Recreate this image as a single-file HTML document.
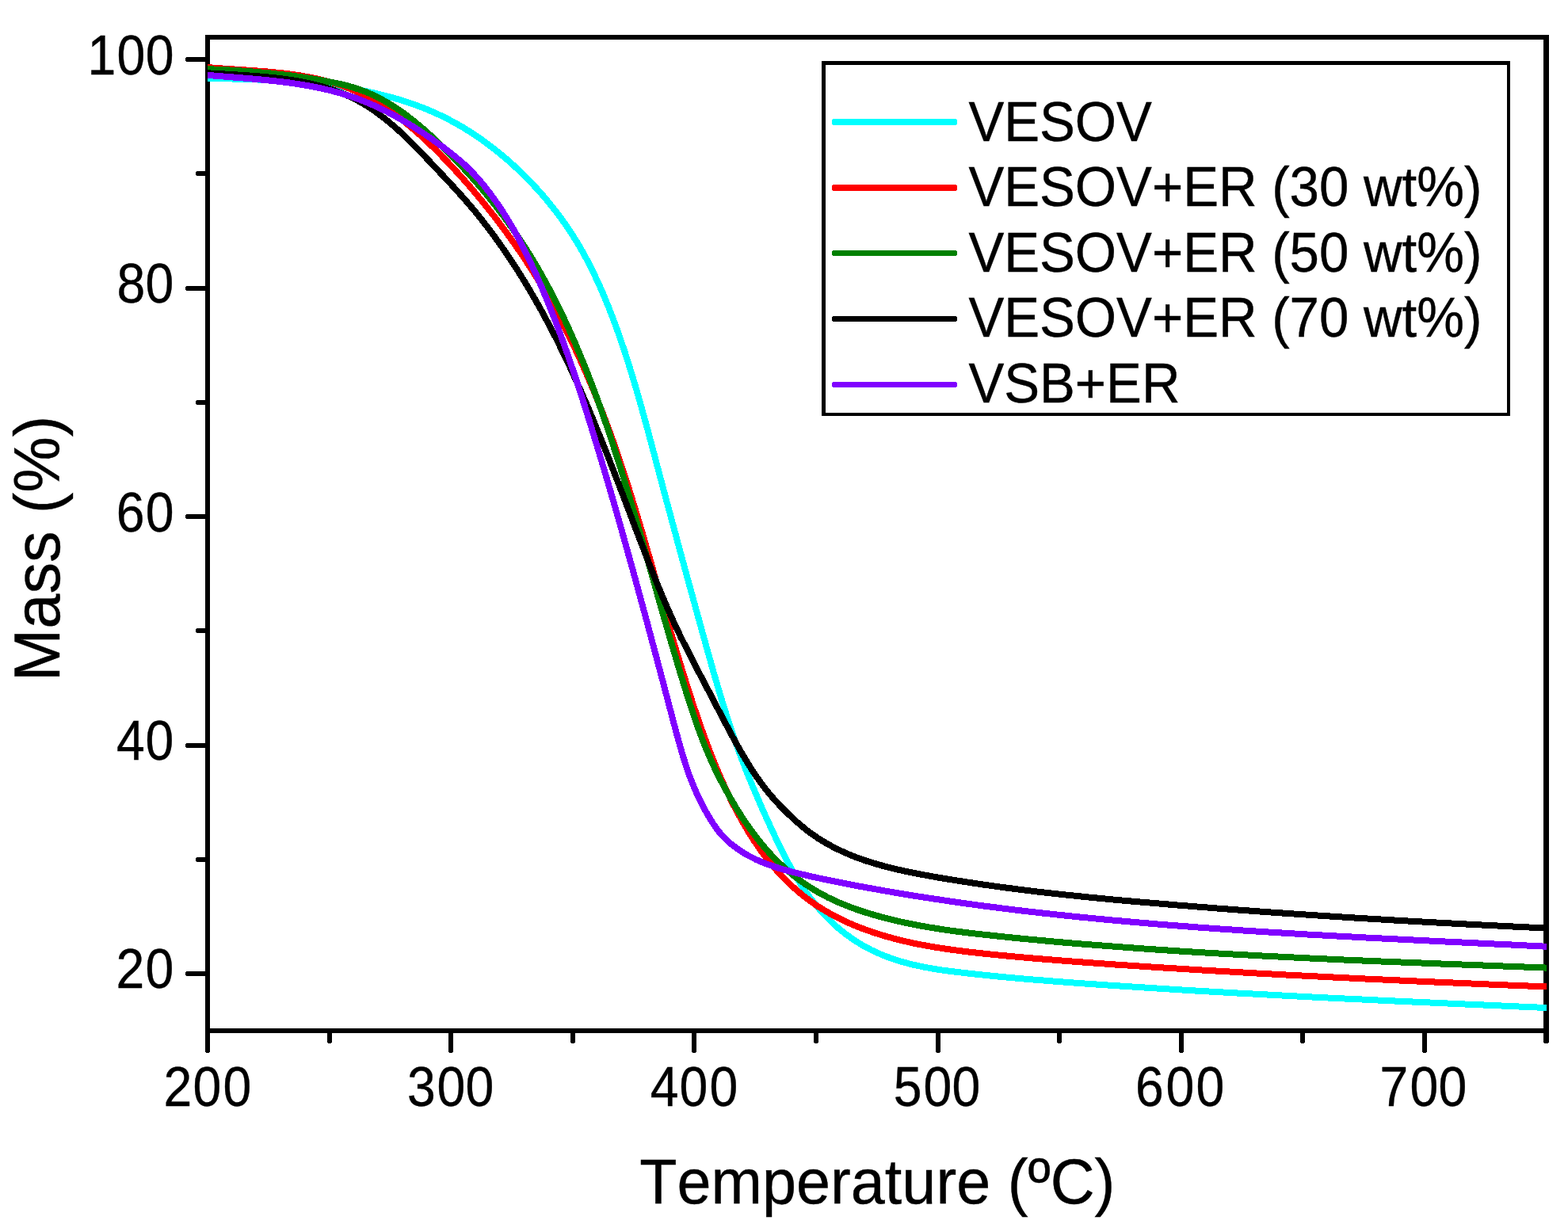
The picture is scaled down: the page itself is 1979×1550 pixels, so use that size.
<!DOCTYPE html>
<html lang="en">
<head>
<meta charset="utf-8">
<title>TGA curves: Mass (%) vs Temperature</title>
<style>
html,body{margin:0;padding:0;background:#fff;}
body{width:1979px;height:1550px;overflow:hidden;}
svg{display:block;}
text{font-family:"Liberation Sans",sans-serif;fill:#000;stroke:#000;stroke-width:0.4px;font-kerning:none;white-space:pre;}
.tk{font-size:67.2px;}
.tt{font-size:77.4px;}
.lg{font-size:67.2px;}
.crisp{shape-rendering:crispEdges;}
.cv{fill:none;stroke-width:8;stroke-linejoin:round;stroke-linecap:butt;shape-rendering:crispEdges;}
</style>
</head>
<body>
<svg width="1979" height="1550" viewBox="0 0 1979 1550">
<rect width="1979" height="1550" fill="#fff"/>
<g class="crisp" fill="#000">
<rect x="259" y="44" width="1696" height="6"/>
<rect x="259" y="1298" width="1696" height="6"/>
<rect x="259" y="44" width="6" height="1260"/>
<rect x="1948" y="44" width="7" height="1260"/>
<rect x="259" y="1300" width="6" height="29" rx="2.4" ry="2.4"/>
<rect x="413" y="1300" width="6" height="17" rx="2.4" ry="2.4"/>
<rect x="566" y="1300" width="6" height="29" rx="2.4" ry="2.4"/>
<rect x="720" y="1300" width="6" height="17" rx="2.4" ry="2.4"/>
<rect x="873" y="1300" width="6" height="29" rx="2.4" ry="2.4"/>
<rect x="1027" y="1300" width="6" height="17" rx="2.4" ry="2.4"/>
<rect x="1181" y="1300" width="6" height="29" rx="2.4" ry="2.4"/>
<rect x="1334" y="1300" width="6" height="17" rx="2.4" ry="2.4"/>
<rect x="1488" y="1300" width="6" height="29" rx="2.4" ry="2.4"/>
<rect x="1641" y="1300" width="6" height="17" rx="2.4" ry="2.4"/>
<rect x="1795" y="1300" width="6" height="29" rx="2.4" ry="2.4"/>
<rect x="1948" y="1300" width="7" height="17" rx="2.4" ry="2.4"/>
<rect x="234" y="1226" width="29" height="6" rx="2.4" ry="2.4"/>
<rect x="247" y="1082" width="16" height="6" rx="2.4" ry="2.4"/>
<rect x="234" y="938" width="29" height="6" rx="2.4" ry="2.4"/>
<rect x="247" y="793" width="16" height="6" rx="2.4" ry="2.4"/>
<rect x="234" y="649" width="29" height="6" rx="2.4" ry="2.4"/>
<rect x="247" y="505" width="16" height="6" rx="2.4" ry="2.4"/>
<rect x="234" y="361" width="29" height="6" rx="2.4" ry="2.4"/>
<rect x="247" y="216" width="16" height="6" rx="2.4" ry="2.4"/>
<rect x="234" y="72" width="29" height="6" rx="2.4" ry="2.4"/>
</g>
<text class="tk" transform="translate(0 1395.6) scale(0.957 1.045)" x="215.9 254.5 294.1" y="0">200</text>
<text class="tk" transform="translate(0 1395.6) scale(0.957 1.045)" x="537.0 576.2 614.0" y="0">300</text>
<text class="tk" transform="translate(0 1395.6) scale(0.957 1.045)" x="857.7 896.0 935.8" y="0">400</text>
<text class="tk" transform="translate(0 1395.6) scale(0.957 1.045)" x="1178.3 1217.8 1255.6" y="0">500</text>
<text class="tk" transform="translate(0 1395.6) scale(0.957 1.045)" x="1497.3 1537.6 1577.4" y="0">600</text>
<text class="tk" transform="translate(0 1395.6) scale(0.957 1.045)" x="1819.8 1859.4 1897.2" y="0">700</text>
<text class="tk" transform="translate(0 1247.3) scale(0.957 1.045)" x="153.1 191.8" y="0">20</text>
<text class="tk" transform="translate(0 959.3) scale(0.957 1.045)" x="153.5 191.8" y="0">40</text>
<text class="tk" transform="translate(0 671.3) scale(0.957 1.045)" x="153.3 191.9" y="0">60</text>
<text class="tk" transform="translate(0 382.3) scale(0.957 1.045)" x="154.1 191.8" y="0">80</text>
<text class="tk" transform="translate(0 94.3) scale(0.957 1.045)" x="115.6 154.2 191.9" y="0">100</text>
<text class="tt" transform="translate(1107.3 1519.2) scale(1 1.035)" text-anchor="middle">Temperature (ºC)</text>
<text class="tt" style="font-size:79.4px" transform="translate(75.0 692.3) rotate(-90) scale(1 1.036)" text-anchor="middle">Mass (%)</text>
<clipPath id="pc"><rect x="262" y="47" width="1690" height="1254"/></clipPath>
<g clip-path="url(#pc)">
<path class="cv" stroke="#00ffff" d="M258.1 98.7 L262.1 98.8 C270.9 99.0 279.7 99.2 288.6 99.4 C297.4 99.6 306.2 99.8 315.1 100.1 C323.9 100.4 332.7 100.8 341.6 101.2 C350.4 101.7 359.2 102.2 368.0 102.9 C376.8 103.5 385.6 104.3 394.4 105.2 C403.2 106.0 412.0 107.1 420.7 108.3 C429.5 109.5 438.2 110.8 446.9 112.4 C455.6 113.9 464.3 115.6 472.9 117.6 C481.5 119.6 490.1 121.7 498.6 124.2 C507.1 126.6 515.5 129.3 523.8 132.3 C532.1 135.3 540.3 138.6 548.4 142.1 C556.4 145.7 564.4 149.6 572.1 153.9 C579.9 158.1 587.5 162.6 594.9 167.4 C602.3 172.2 609.6 177.3 616.6 182.6 C623.7 187.9 630.6 193.4 637.3 199.1 C644.0 204.9 650.6 210.8 656.9 217.0 C663.3 223.1 669.5 229.4 675.5 235.9 C681.5 242.4 687.3 249.0 692.9 255.9 C698.5 262.7 703.9 269.7 709.1 276.8 C714.3 284.0 719.2 291.3 723.9 298.8 C728.7 306.2 733.1 313.9 737.4 321.6 C741.6 329.4 745.7 337.2 749.5 345.2 C753.3 353.1 757.0 361.2 760.5 369.3 C764.0 377.4 767.3 385.6 770.5 393.8 C773.7 402.1 776.8 410.3 779.8 418.7 C782.7 427.0 785.6 435.3 788.4 443.7 C791.1 452.1 793.8 460.5 796.4 469.0 C799.0 477.4 801.5 485.9 804.0 494.4 C806.5 502.9 808.9 511.4 811.2 519.9 C813.6 528.4 815.9 536.9 818.2 545.4 C820.5 554.0 822.8 562.5 825.0 571.0 C827.3 579.6 829.5 588.1 831.8 596.7 C834.1 605.2 836.3 613.7 838.6 622.3 C840.9 630.8 843.2 639.4 845.5 647.9 C847.8 656.4 850.1 664.9 852.4 673.5 C854.7 682.0 857.0 690.5 859.3 699.0 C861.6 707.6 864.0 716.1 866.3 724.6 C868.6 733.1 871.0 741.7 873.3 750.2 C875.6 758.7 878.0 767.2 880.3 775.7 C882.7 784.2 885.1 792.7 887.4 801.3 C889.8 809.8 892.1 818.3 894.5 826.8 C896.9 835.3 899.3 843.8 901.7 852.3 C904.2 860.8 906.7 869.3 909.2 877.7 C911.8 886.2 914.4 894.6 917.1 903.0 C919.8 911.4 922.5 919.8 925.4 928.2 C928.3 936.5 931.3 944.9 934.3 953.1 C937.4 961.4 940.6 969.6 943.9 977.8 C947.2 986.0 950.6 994.2 954.1 1002.3 C957.5 1010.4 961.1 1018.5 964.7 1026.6 C968.3 1034.6 972.0 1042.7 975.8 1050.7 C979.5 1058.7 983.3 1066.7 987.3 1074.6 C991.2 1082.5 995.3 1090.3 999.7 1098.0 C1004.0 1105.7 1008.6 1113.2 1013.5 1120.6 C1018.4 1127.9 1023.7 1135.0 1029.3 1141.9 C1034.9 1148.7 1040.8 1155.3 1047.1 1161.4 C1053.4 1167.6 1060.1 1173.5 1067.1 1178.8 C1074.1 1184.2 1081.5 1189.1 1089.1 1193.5 C1096.8 1197.9 1104.7 1201.7 1112.9 1205.1 C1121.1 1208.5 1129.4 1211.4 1137.9 1213.9 C1146.4 1216.3 1155.0 1218.4 1163.7 1220.1 C1172.3 1221.9 1181.0 1223.3 1189.8 1224.6 C1198.5 1225.9 1207.3 1226.9 1216.1 1227.9 C1224.9 1228.9 1233.7 1229.9 1242.4 1230.8 C1251.2 1231.7 1260.0 1232.6 1268.8 1233.4 C1277.6 1234.2 1286.4 1235.0 1295.2 1235.8 C1304.0 1236.5 1312.8 1237.2 1321.6 1237.9 C1330.4 1238.6 1339.2 1239.3 1348.0 1240.0 C1356.9 1240.6 1365.7 1241.2 1374.5 1241.9 C1383.3 1242.5 1392.1 1243.1 1400.9 1243.7 C1409.7 1244.3 1418.5 1244.9 1427.4 1245.4 C1436.2 1246.0 1445.0 1246.6 1453.8 1247.1 C1462.6 1247.7 1471.4 1248.2 1480.3 1248.8 C1489.1 1249.3 1497.9 1249.8 1506.7 1250.4 C1515.5 1250.9 1524.4 1251.4 1533.2 1251.9 C1542.0 1252.4 1550.8 1252.9 1559.6 1253.4 C1568.5 1253.9 1577.3 1254.4 1586.1 1254.8 C1594.9 1255.3 1603.7 1255.8 1612.6 1256.2 C1621.4 1256.7 1630.2 1257.2 1639.0 1257.6 C1647.9 1258.1 1656.7 1258.5 1665.5 1259.0 C1674.3 1259.4 1683.1 1259.8 1692.0 1260.3 C1700.8 1260.7 1709.6 1261.1 1718.4 1261.5 C1727.3 1261.9 1736.1 1262.4 1744.9 1262.8 C1753.7 1263.2 1762.6 1263.6 1771.4 1264.0 C1780.2 1264.4 1789.0 1264.8 1797.9 1265.2 C1806.7 1265.6 1815.5 1266.0 1824.3 1266.4 C1833.2 1266.8 1842.0 1267.2 1850.8 1267.6 C1859.6 1268.0 1868.5 1268.4 1877.3 1268.7 C1886.1 1269.1 1894.9 1269.5 1903.8 1269.9 C1912.6 1270.3 1921.4 1270.7 1930.2 1271.1 C1939.1 1271.5 1947.9 1271.8 1956.7 1272.2"/>
<path class="cv" stroke="#ff0000" d="M258.1 84.8 L262.1 85.1 C270.6 85.8 279.3 86.4 288.0 87.0 C296.6 87.5 305.3 88.1 314.0 88.7 C322.6 89.3 331.2 89.9 339.9 90.7 C348.5 91.5 357.1 92.4 365.7 93.5 C374.3 94.6 382.9 96.0 391.4 97.6 C399.9 99.3 408.4 101.2 416.7 103.5 C425.0 105.9 433.3 108.6 441.3 111.8 C449.3 115.0 457.2 118.7 464.8 122.8 C472.4 127.0 479.8 131.5 487.0 136.4 C494.2 141.2 501.2 146.3 508.0 151.7 C514.8 157.1 521.4 162.6 527.9 168.4 C534.4 174.2 540.7 180.1 546.9 186.2 C553.1 192.2 559.1 198.4 565.1 204.7 C571.1 211.0 576.9 217.4 582.7 223.8 C588.5 230.3 594.2 236.8 599.7 243.4 C605.3 250.1 610.8 256.8 616.2 263.5 C621.6 270.3 626.9 277.2 632.1 284.1 C637.3 291.0 642.4 298.0 647.4 305.1 C652.4 312.2 657.3 319.3 662.1 326.6 C666.9 333.8 671.6 341.1 676.1 348.4 C680.7 355.8 685.1 363.2 689.5 370.8 C693.8 378.2 698.0 385.8 702.1 393.4 C706.3 401.1 710.3 408.7 714.2 416.5 C718.1 424.2 721.9 432.0 725.7 439.8 C729.4 447.6 733.0 455.5 736.5 463.4 C740.1 471.3 743.5 479.3 746.9 487.3 C750.2 495.2 753.5 503.3 756.7 511.3 C759.9 519.4 763.0 527.5 766.0 535.6 C769.0 543.7 772.0 551.9 774.9 560.0 C777.7 568.2 780.5 576.4 783.3 584.6 C786.0 592.8 788.7 601.1 791.4 609.3 C794.0 617.6 796.6 625.8 799.1 634.1 C801.7 642.4 804.2 650.7 806.7 659.0 C809.1 667.3 811.6 675.6 814.0 683.9 C816.4 692.3 818.8 700.6 821.2 708.9 C823.6 717.2 825.9 725.6 828.3 733.9 C830.7 742.2 833.0 750.6 835.4 758.9 C837.8 767.2 840.2 775.6 842.6 783.9 C845.0 792.2 847.4 800.5 849.8 808.8 C852.3 817.2 854.8 825.5 857.3 833.7 C859.8 842.0 862.3 850.3 865.0 858.6 C867.6 866.8 870.2 875.1 872.9 883.3 C875.6 891.6 878.4 899.8 881.2 908.0 C884.0 916.1 886.9 924.3 889.9 932.4 C892.9 940.6 896.0 948.7 899.2 956.7 C902.4 964.8 905.7 972.8 909.1 980.7 C912.6 988.7 916.2 996.6 920.0 1004.4 C923.7 1012.2 927.6 1019.9 931.8 1027.5 C935.9 1035.1 940.2 1042.7 944.7 1050.1 C949.2 1057.5 954.0 1064.7 959.0 1071.8 C964.0 1078.9 969.2 1085.8 974.8 1092.4 C980.4 1099.0 986.2 1105.4 992.4 1111.5 C998.5 1117.6 1005.0 1123.4 1011.7 1128.9 C1018.4 1134.3 1025.4 1139.5 1032.7 1144.2 C1039.9 1148.9 1047.5 1153.3 1055.2 1157.3 C1062.8 1161.2 1070.7 1164.9 1078.7 1168.2 C1086.8 1171.5 1094.9 1174.5 1103.1 1177.2 C1111.4 1179.9 1119.7 1182.4 1128.0 1184.6 C1136.4 1186.8 1144.8 1188.8 1153.3 1190.6 C1161.8 1192.4 1170.3 1193.9 1178.9 1195.4 C1187.4 1196.8 1196.0 1198.1 1204.6 1199.2 C1213.1 1200.4 1221.7 1201.5 1230.4 1202.4 C1239.0 1203.4 1247.6 1204.3 1256.2 1205.1 C1264.8 1206.0 1273.5 1206.8 1282.1 1207.6 C1290.7 1208.4 1299.3 1209.1 1308.0 1209.9 C1316.6 1210.6 1325.2 1211.3 1333.9 1212.0 C1342.5 1212.7 1351.2 1213.4 1359.8 1214.0 C1368.4 1214.7 1377.1 1215.3 1385.7 1215.9 C1394.4 1216.6 1403.0 1217.2 1411.6 1217.8 C1420.3 1218.3 1428.9 1218.9 1437.6 1219.5 C1446.2 1220.1 1454.9 1220.6 1463.5 1221.2 C1472.2 1221.7 1480.8 1222.3 1489.5 1222.8 C1498.1 1223.4 1506.7 1223.9 1515.4 1224.4 C1524.0 1224.9 1532.7 1225.4 1541.3 1225.9 C1550.0 1226.4 1558.6 1226.9 1567.3 1227.4 C1575.9 1227.9 1584.6 1228.4 1593.2 1228.9 C1601.9 1229.3 1610.5 1229.8 1619.2 1230.3 C1627.9 1230.7 1636.5 1231.2 1645.2 1231.6 C1653.8 1232.1 1662.5 1232.5 1671.1 1232.9 C1679.8 1233.4 1688.4 1233.8 1697.1 1234.2 C1705.7 1234.7 1714.4 1235.1 1723.0 1235.5 C1731.7 1235.9 1740.3 1236.3 1749.0 1236.7 C1757.7 1237.1 1766.3 1237.5 1775.0 1237.9 C1783.6 1238.3 1792.3 1238.7 1800.9 1239.1 C1809.6 1239.5 1818.2 1239.8 1826.9 1240.2 C1835.6 1240.6 1844.2 1241.0 1852.9 1241.3 C1861.5 1241.7 1870.2 1242.1 1878.8 1242.5 C1887.5 1242.8 1896.1 1243.2 1904.8 1243.6 C1913.5 1243.9 1922.1 1244.3 1930.8 1244.6 C1939.4 1245.0 1948.1 1245.4 1956.7 1245.7"/>
<path class="cv" stroke="#008000" d="M258.0 86.9 L262.0 87.1 C270.7 87.5 279.3 87.9 287.8 88.4 C296.5 88.9 305.1 89.5 313.7 90.1 C322.3 90.8 330.9 91.5 339.5 92.3 C348.0 93.2 356.6 94.2 365.2 95.2 C373.7 96.3 382.2 97.5 390.8 98.9 C399.3 100.2 407.8 101.7 416.3 103.4 C424.8 105.0 433.3 106.8 441.5 109.1 C449.9 111.5 458.1 114.3 465.9 117.7 C473.9 121.2 481.5 125.1 489.0 129.5 C496.4 133.8 503.6 138.6 510.6 143.7 C517.5 148.8 524.2 154.2 530.8 159.8 C537.4 165.4 543.8 171.2 550.1 177.1 C556.4 183.0 562.5 189.1 568.6 195.2 C574.7 201.3 580.7 207.6 586.5 213.9 C592.4 220.2 598.1 226.7 603.8 233.2 C609.4 239.7 614.9 246.4 620.3 253.1 C625.7 259.8 631.0 266.7 636.1 273.6 C641.2 280.6 646.2 287.6 651.1 294.7 C656.0 301.8 660.7 309.0 665.3 316.4 C669.9 323.7 674.3 331.0 678.7 338.5 C683.0 346.0 687.2 353.5 691.3 361.1 C695.3 368.7 699.3 376.4 703.1 384.1 C707.0 391.8 710.7 399.6 714.4 407.4 C718.0 415.3 721.5 423.1 725.0 431.1 C728.4 439.0 731.7 446.9 735.0 454.9 C738.3 462.9 741.4 470.9 744.5 479.0 C747.6 487.0 750.7 495.1 753.6 503.2 C756.6 511.3 759.5 519.4 762.3 527.6 C765.2 535.7 768.0 543.9 770.7 552.1 C773.4 560.3 776.1 568.5 778.7 576.7 C781.4 584.9 783.9 593.1 786.5 601.4 C789.0 609.6 791.6 617.9 794.0 626.1 C796.5 634.4 799.0 642.7 801.4 651.0 C803.8 659.2 806.2 667.5 808.6 675.8 C811.0 684.1 813.4 692.4 815.7 700.7 C818.1 709.0 820.4 717.3 822.8 725.6 C825.1 733.9 827.5 742.2 829.8 750.5 C832.2 758.8 834.6 767.1 836.9 775.4 C839.3 783.7 841.7 792.0 844.1 800.3 C846.5 808.6 848.9 816.9 851.4 825.1 C853.8 833.4 856.3 841.7 858.8 849.9 C861.3 858.2 863.9 866.4 866.4 874.7 C869.0 882.9 871.7 891.1 874.4 899.3 C877.1 907.5 879.9 915.6 882.9 923.7 C885.9 931.8 889.0 939.9 892.3 947.8 C895.7 955.8 899.2 963.7 902.9 971.5 C906.6 979.2 910.6 986.9 914.7 994.5 C918.8 1002.1 923.1 1009.6 927.5 1017.0 C932.0 1024.4 936.6 1031.7 941.5 1038.8 C946.3 1045.9 951.4 1052.9 956.7 1059.7 C962.1 1066.5 967.7 1073.0 973.6 1079.3 C979.5 1085.6 985.7 1091.6 992.2 1097.3 C998.7 1102.9 1005.5 1108.3 1012.5 1113.3 C1019.6 1118.3 1026.9 1122.9 1034.4 1127.2 C1041.9 1131.4 1049.7 1135.2 1057.6 1138.7 C1065.5 1142.1 1073.5 1145.2 1081.7 1148.1 C1089.8 1150.9 1098.1 1153.5 1106.4 1155.8 C1114.7 1158.2 1123.0 1160.3 1131.4 1162.3 C1139.8 1164.2 1148.3 1166.0 1156.8 1167.6 C1165.2 1169.2 1173.7 1170.7 1182.3 1172.0 C1190.8 1173.4 1199.3 1174.6 1207.9 1175.7 C1216.4 1176.8 1225.0 1177.9 1233.6 1178.8 C1242.1 1179.8 1250.7 1180.7 1259.3 1181.6 C1267.9 1182.5 1276.5 1183.4 1285.1 1184.3 C1293.7 1185.1 1302.2 1185.9 1310.8 1186.7 C1319.4 1187.5 1328.0 1188.3 1336.6 1189.1 C1345.2 1189.8 1353.8 1190.5 1362.4 1191.3 C1371.0 1192.0 1379.6 1192.7 1388.2 1193.3 C1396.8 1194.0 1405.4 1194.7 1414.0 1195.3 C1422.6 1196.0 1431.2 1196.6 1439.8 1197.2 C1448.4 1197.8 1457.0 1198.4 1465.7 1199.0 C1474.3 1199.5 1482.9 1200.1 1491.5 1200.7 C1500.1 1201.2 1508.7 1201.7 1517.3 1202.3 C1525.9 1202.8 1534.5 1203.3 1543.2 1203.8 C1551.8 1204.3 1560.4 1204.8 1569.0 1205.2 C1577.6 1205.7 1586.2 1206.2 1594.8 1206.6 C1603.5 1207.1 1612.1 1207.5 1620.7 1207.9 C1629.3 1208.4 1637.9 1208.8 1646.6 1209.2 C1655.2 1209.6 1663.8 1210.0 1672.4 1210.4 C1681.0 1210.8 1689.6 1211.2 1698.3 1211.6 C1706.9 1211.9 1715.5 1212.3 1724.1 1212.7 C1732.8 1213.1 1741.4 1213.4 1750.0 1213.8 C1758.6 1214.1 1767.2 1214.5 1775.9 1214.8 C1784.5 1215.2 1793.1 1215.5 1801.7 1215.8 C1810.3 1216.2 1819.0 1216.5 1827.6 1216.9 C1836.2 1217.2 1844.8 1217.5 1853.5 1217.8 C1862.1 1218.2 1870.7 1218.5 1879.3 1218.8 C1887.9 1219.2 1896.6 1219.5 1905.2 1219.8 C1913.8 1220.1 1922.4 1220.5 1931.1 1220.8 C1939.7 1221.1 1948.3 1221.4 1956.9 1221.8"/>
<path class="cv" stroke="#000000" d="M258.2 92.0 L262.2 92.3 C270.3 92.8 278.7 93.3 287.1 93.7 C295.3 94.2 303.6 94.7 312.0 95.3 C320.2 95.8 328.6 96.5 336.9 97.3 C345.1 98.1 353.4 99.0 361.6 100.2 C369.9 101.3 378.1 102.7 386.2 104.4 C394.4 106.1 402.5 108.0 410.4 110.4 C418.5 112.7 426.3 115.5 434.0 118.6 C441.7 121.8 449.1 125.5 456.4 129.6 C463.5 133.8 470.5 138.3 477.2 143.3 C483.9 148.2 490.4 153.4 496.7 158.9 C502.9 164.3 509.0 170.0 515.0 175.8 C520.9 181.6 526.8 187.6 532.5 193.6 C538.3 199.6 544.0 205.7 549.7 211.7 C555.4 217.8 561.1 223.9 566.8 229.9 C572.4 236.0 578.1 242.1 583.6 248.3 C589.1 254.5 594.5 260.8 599.9 267.2 C605.1 273.6 610.3 280.2 615.3 286.8 C620.4 293.4 625.3 300.1 630.1 306.9 C634.9 313.7 639.6 320.5 644.3 327.5 C648.9 334.4 653.3 341.4 657.7 348.4 C662.1 355.5 666.4 362.6 670.6 369.8 C674.8 377.0 679.0 384.2 683.0 391.5 C687.0 398.8 690.9 406.1 694.8 413.5 C698.6 420.8 702.4 428.2 706.1 435.7 C709.8 443.1 713.4 450.6 717.0 458.2 C720.5 465.7 724.0 473.2 727.4 480.8 C730.8 488.4 734.2 496.0 737.5 503.6 C740.8 511.3 744.1 518.9 747.3 526.6 C750.5 534.3 753.6 542.0 756.7 549.7 C759.9 557.4 762.9 565.1 766.0 572.9 C769.1 580.6 772.1 588.3 775.1 596.1 C778.1 603.8 781.1 611.6 784.1 619.4 C787.0 627.1 790.0 634.9 793.0 642.7 C795.9 650.5 798.9 658.2 801.8 666.0 C804.8 673.8 807.8 681.5 810.8 689.3 C813.8 697.1 816.8 704.8 819.8 712.6 C822.8 720.3 825.9 728.0 829.0 735.7 C832.2 743.4 835.3 751.1 838.6 758.8 C841.9 766.4 845.2 774.0 848.7 781.6 C852.1 789.2 855.7 796.7 859.3 804.2 C863.0 811.6 866.8 819.0 870.6 826.4 C874.4 833.8 878.2 841.2 882.0 848.6 C885.9 856.0 889.7 863.4 893.6 870.7 C897.4 878.1 901.3 885.5 905.1 892.8 C909.0 900.2 912.9 907.6 916.7 914.9 C920.6 922.3 924.5 929.6 928.5 936.9 C932.5 944.2 936.6 951.5 940.9 958.6 C945.1 965.7 949.6 972.8 954.3 979.6 C959.0 986.5 963.9 993.2 969.2 999.6 C974.4 1006.0 980.0 1012.2 985.8 1018.3 C991.5 1024.2 997.5 1030.0 1003.7 1035.6 C1009.9 1041.2 1016.3 1046.6 1023.0 1051.4 C1029.7 1056.4 1036.7 1060.9 1043.9 1065.0 C1051.2 1069.1 1058.6 1072.8 1066.2 1076.2 C1073.8 1079.6 1081.5 1082.6 1089.4 1085.3 C1097.2 1088.0 1105.2 1090.4 1113.3 1092.6 C1121.2 1094.8 1129.3 1096.8 1137.5 1098.6 C1145.6 1100.4 1153.7 1102.0 1161.9 1103.6 C1170.1 1105.1 1178.3 1106.6 1186.5 1108.0 C1194.7 1109.4 1202.9 1110.7 1211.1 1112.0 C1219.3 1113.3 1227.5 1114.6 1235.8 1115.8 C1244.0 1117.0 1252.2 1118.2 1260.5 1119.3 C1268.7 1120.4 1277.0 1121.5 1285.2 1122.5 C1293.5 1123.6 1301.7 1124.6 1310.0 1125.6 C1318.2 1126.5 1326.5 1127.5 1334.8 1128.4 C1343.0 1129.3 1351.3 1130.2 1359.6 1131.0 C1367.9 1131.9 1376.1 1132.7 1384.4 1133.5 C1392.7 1134.3 1401.0 1135.1 1409.2 1135.9 C1417.5 1136.6 1425.8 1137.4 1434.1 1138.1 C1442.4 1138.8 1450.7 1139.5 1459.0 1140.2 C1467.2 1140.9 1475.5 1141.6 1483.8 1142.3 C1492.1 1143.0 1500.4 1143.7 1508.7 1144.3 C1517.0 1145.0 1525.3 1145.6 1533.6 1146.3 C1541.9 1146.9 1550.2 1147.6 1558.4 1148.2 C1566.7 1148.8 1575.0 1149.4 1583.3 1150.0 C1591.6 1150.6 1599.9 1151.2 1608.2 1151.8 C1616.5 1152.4 1624.8 1152.9 1633.1 1153.5 C1641.4 1154.1 1649.7 1154.6 1658.0 1155.2 C1666.3 1155.7 1674.6 1156.3 1682.9 1156.8 C1691.2 1157.3 1699.5 1157.9 1707.8 1158.4 C1716.1 1158.9 1724.4 1159.4 1732.7 1159.9 C1741.0 1160.4 1749.3 1160.9 1757.6 1161.4 C1765.9 1161.9 1774.2 1162.3 1782.5 1162.8 C1790.8 1163.3 1799.1 1163.7 1807.4 1164.2 C1815.7 1164.6 1824.0 1165.1 1832.3 1165.5 C1840.7 1166.0 1849.0 1166.4 1857.3 1166.9 C1865.6 1167.3 1873.9 1167.7 1882.2 1168.1 C1890.5 1168.5 1898.8 1169.0 1907.1 1169.4 C1915.4 1169.8 1923.7 1170.2 1932.0 1170.6 C1940.3 1171.0 1948.6 1171.4 1956.9 1171.8"/>
<path class="cv" stroke="#8000ff" d="M258.1 94.6 L262.1 94.9 C270.6 95.6 279.2 96.3 287.9 97.0 C296.4 97.7 305.1 98.3 313.7 99.1 C322.3 99.8 330.9 100.6 339.5 101.5 C348.1 102.4 356.7 103.3 365.2 104.5 C373.8 105.7 382.3 107.0 390.8 108.6 C399.3 110.1 407.7 111.9 416.1 114.0 C424.5 116.0 432.8 118.4 441.0 121.1 C449.2 123.7 457.3 126.8 465.2 130.1 C473.2 133.5 481.0 137.2 488.7 141.1 C496.4 145.1 503.9 149.3 511.3 153.7 C518.8 158.1 526.1 162.7 533.3 167.5 C540.5 172.3 547.5 177.2 554.5 182.3 C561.5 187.4 568.4 192.6 575.0 198.1 C581.7 203.5 588.1 209.3 594.2 215.5 C600.2 221.6 606.0 228.1 611.4 234.8 C616.8 241.6 621.9 248.5 626.8 255.6 C631.8 262.7 636.5 270.0 640.9 277.3 C645.4 284.7 649.7 292.2 653.8 299.8 C657.9 307.4 661.8 315.1 665.6 322.9 C669.3 330.6 673.0 338.5 676.5 346.3 C680.1 354.2 683.5 362.1 686.8 370.1 C690.2 378.0 693.4 386.0 696.6 394.1 C699.8 402.1 702.9 410.2 705.9 418.3 C708.9 426.3 711.8 434.5 714.7 442.6 C717.6 450.7 720.4 458.9 723.2 467.1 C726.0 475.3 728.7 483.4 731.3 491.7 C734.0 499.9 736.6 508.1 739.2 516.3 C741.8 524.6 744.4 532.8 746.9 541.1 C749.4 549.3 751.9 557.6 754.4 565.8 C756.9 574.1 759.4 582.4 761.9 590.7 C764.3 598.9 766.7 607.2 769.2 615.5 C771.6 623.8 774.0 632.1 776.4 640.4 C778.8 648.7 781.1 657.0 783.5 665.3 C785.8 673.6 788.2 681.9 790.5 690.2 C792.8 698.5 795.1 706.8 797.5 715.2 C799.8 723.5 802.0 731.8 804.3 740.1 C806.6 748.5 808.9 756.8 811.1 765.1 C813.4 773.4 815.7 781.8 817.9 790.1 C820.1 798.4 822.4 806.8 824.6 815.1 C826.8 823.5 829.1 831.8 831.3 840.2 C833.5 848.5 835.7 856.8 837.9 865.2 C840.1 873.5 842.3 881.9 844.5 890.2 C846.7 898.6 848.9 906.9 851.1 915.3 C853.3 923.6 855.6 932.0 857.9 940.3 C860.2 948.6 862.7 956.9 865.4 965.1 C868.0 973.3 870.9 981.4 874.2 989.4 C877.4 997.4 880.9 1005.3 884.9 1013.0 C888.8 1020.7 893.0 1028.3 897.5 1035.6 C902.1 1043.0 907.1 1050.0 913.0 1056.3 C918.9 1062.6 925.6 1068.1 932.8 1072.9 C939.9 1077.8 947.5 1081.9 955.4 1085.5 C963.2 1089.1 971.3 1092.1 979.5 1094.7 C987.8 1097.4 996.1 1099.6 1004.5 1101.7 C1012.9 1103.8 1021.3 1105.7 1029.7 1107.6 C1038.2 1109.4 1046.6 1111.2 1055.1 1112.9 C1063.5 1114.6 1072.0 1116.3 1080.5 1117.9 C1089.0 1119.5 1097.4 1121.0 1105.9 1122.5 C1114.4 1124.1 1123.0 1125.5 1131.5 1127.0 C1140.0 1128.4 1148.5 1129.8 1157.0 1131.2 C1165.5 1132.5 1174.1 1133.9 1182.6 1135.1 C1191.1 1136.4 1199.7 1137.7 1208.2 1138.9 C1216.8 1140.1 1225.3 1141.3 1233.9 1142.5 C1242.4 1143.6 1251.0 1144.7 1259.6 1145.8 C1268.1 1146.9 1276.7 1148.0 1285.3 1149.0 C1293.8 1150.0 1302.4 1151.0 1311.0 1152.0 C1319.6 1153.0 1328.2 1153.9 1336.7 1154.8 C1345.3 1155.7 1353.9 1156.6 1362.5 1157.5 C1371.1 1158.4 1379.7 1159.2 1388.3 1160.0 C1396.9 1160.9 1405.5 1161.7 1414.1 1162.4 C1422.7 1163.2 1431.3 1164.0 1439.9 1164.7 C1448.5 1165.5 1457.1 1166.2 1465.7 1166.9 C1474.3 1167.6 1482.9 1168.3 1491.5 1168.9 C1500.1 1169.6 1508.7 1170.2 1517.3 1170.9 C1525.9 1171.5 1534.5 1172.1 1543.1 1172.7 C1551.8 1173.3 1560.4 1173.9 1569.0 1174.5 C1577.6 1175.0 1586.2 1175.6 1594.8 1176.1 C1603.4 1176.7 1612.1 1177.2 1620.7 1177.7 C1629.3 1178.3 1637.9 1178.8 1646.5 1179.3 C1655.2 1179.8 1663.8 1180.2 1672.4 1180.7 C1681.0 1181.2 1689.6 1181.7 1698.3 1182.1 C1706.9 1182.6 1715.5 1183.1 1724.1 1183.5 C1732.7 1184.0 1741.4 1184.4 1750.0 1184.8 C1758.6 1185.3 1767.2 1185.7 1775.8 1186.1 C1784.5 1186.6 1793.1 1187.0 1801.7 1187.4 C1810.3 1187.8 1819.0 1188.2 1827.6 1188.7 C1836.2 1189.1 1844.8 1189.5 1853.4 1189.9 C1862.1 1190.3 1870.7 1190.7 1879.3 1191.2 C1887.9 1191.6 1896.6 1192.0 1905.2 1192.4 C1913.8 1192.8 1922.4 1193.2 1931.1 1193.7 C1939.7 1194.1 1948.3 1194.5 1956.9 1195.0"/>
</g>
<g class="crisp" fill="#000">
<rect x="1037" y="77" width="869" height="5"/>
<rect x="1037" y="521" width="869" height="4"/>
<rect x="1037" y="77" width="5" height="448"/>
<rect x="1902" y="77" width="4" height="448"/>
</g>
<g class="crisp">
<rect x="1050" y="150" width="158" height="8" rx="3.3" ry="3.3" fill="#00ffff"/>
<rect x="1050" y="233" width="158" height="8" rx="3.3" ry="3.3" fill="#ff0000"/>
<rect x="1050" y="316" width="158" height="7" rx="3.3" ry="3.3" fill="#008000"/>
<rect x="1050" y="399" width="158" height="7" rx="3.3" ry="3.3" fill="#000000"/>
<rect x="1050" y="482" width="158" height="7" rx="3.3" ry="3.3" fill="#8000ff"/>
</g>
<text class="lg" transform="translate(1222.4 177.6) scale(1 1.040)" text-anchor="start">VESOV</text>
<text class="lg" transform="translate(1222.4 260.1) scale(1 1.040)" text-anchor="start">VESOV+ER (30 wt%)</text>
<text class="lg" transform="translate(1222.4 342.6) scale(1 1.040)" text-anchor="start">VESOV+ER (50 wt%)</text>
<text class="lg" transform="translate(1222.4 425.1) scale(1 1.040)" text-anchor="start">VESOV+ER (70 wt%)</text>
<text class="lg" transform="translate(1222.4 507.6) scale(1 1.040)" text-anchor="start">VSB+ER</text>
</svg>
</body>
</html>
